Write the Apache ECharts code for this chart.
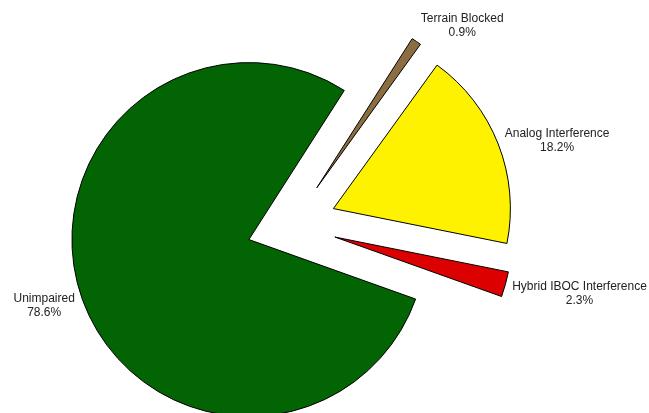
<!DOCTYPE html>
<html><head><meta charset="utf-8">
<script src="https://cdn.jsdelivr.net/npm/echarts@6/dist/echarts.min.js"></script>
<style>html,body{margin:0;padding:0;background:#fff}#c{width:649px;height:413px}</style>
</head><body><div id="c"></div>
<script>
var categories = ['Terrain Blocked', 'Analog Interference', 'Hybrid IBOC Interference', 'Unimpaired'];
var values = [0.9, 18.2, 2.3, 78.6];
var colors = ['#8c6d3f', '#fff200', '#dd0000', '#036403'];
// label fine-tuning (style only)
var labelPads = [[0, 0, 18, 0], [0, 0, 2, 0], [14, 0, 0, 0], [14, 0, 0, 0]];
var lineLens = [8, 7, 7, 7];

var data = categories.map(function (name, i) {
  return {
    name: name, value: values[i], selected: true,
    itemStyle: { color: colors[i] },
    label: { padding: labelPads[i] },
    labelLine: { length: lineLens[i] }
  };
});

var chart = echarts.init(document.getElementById('c'), null, { renderer: 'canvas' });
chart.setOption({
  animation: false,
  backgroundColor: '#ffffff',
  series: [{
    type: 'pie',
    center: [291.5, 225],
    radius: 177,
    startAngle: 57.4,
    clockwise: true,
    selectedMode: 'multiple',
    selectedOffset: 45,
    avoidLabelOverlap: false,
    emphasis: { disabled: true },
    itemStyle: { borderColor: '#000', borderWidth: 1 },
    select: { itemStyle: { borderColor: '#000', borderWidth: 1 } },
    label: {
      show: true,
      position: 'outside',
      distanceToLabelLine: 0,
      fontFamily: 'Liberation Sans, Arial, sans-serif',
      fontSize: 12,
      color: '#222',
      formatter: function (p) { return '{a|' + p.name + '}\n{a|' + p.value.toFixed(1) + '%}'; },
      rich: { a: { align: 'center', fontSize: 12, lineHeight: 14, color: '#222', fontFamily: 'Liberation Sans, Arial, sans-serif' } }
    },
    labelLine: { show: false, length: 11, length2: 0 },
    data: data
  }]
});
</script></body></html>
